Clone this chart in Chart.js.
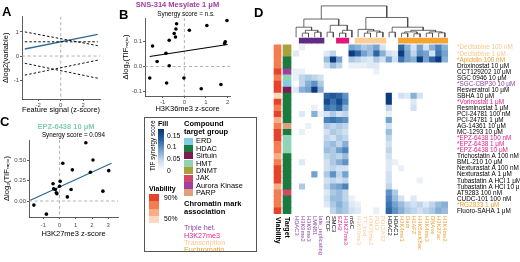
<!DOCTYPE html>
<html>
<head>
<meta charset="utf-8">
<script src="https://cdn.jsdelivr.net/npm/chart.js@4.4.1/dist/chart.umd.min.js"></script>
<style>
  body { margin: 0; width: 520px; height: 262px; position: relative; overflow: hidden; background: #fff;
         font-family: "Liberation Sans", Arial, sans-serif; }
  canvas { position: absolute; }
  .letter { position: absolute; font-weight: bold; font-size: 13px; line-height: 13px; }
  #legend { position: absolute; left: 144px; top: 117px; width: 113px; height: 135px; box-sizing: border-box;
            border: 1px solid #555; overflow: hidden; }
  #legend span, #legend div { position: absolute; white-space: nowrap; }
</style>
</head>
<body>
<canvas id="cA" width="104" height="116" style="left:0;top:0"></canvas>
<canvas id="cB" width="118" height="118" style="left:118px;top:0"></canvas>
<canvas id="cC" width="124" height="124" style="left:0;top:118px"></canvas>
<canvas id="cD" width="280" height="262" style="left:240px;top:0"></canvas>
<div id="legend"></div>
<div class="letter" style="left:2px;top:5px">A</div>
<div class="letter" style="left:119px;top:8px">B</div>
<div class="letter" style="left:0;top:115px">C</div>
<div class="letter" style="left:254px;top:6px">D</div>
<script>
// ---------- panel A (schematic lines)
const aLineX = [-3.2, 3.3];
const aBlue = [0.29, 0.90];
const aDash1 = [1.0, 0.43];
const aDash2 = [0.59, 0.59];
const aDash3 = [-0.30, -0.92];
const aDash4 = [-0.79, -0.17];
const aTicksX = [-2, 0, 2];
const aTicksY = [-1, 0, 1];

// ---------- panel B
const bX = [-1.47, -0.36, -0.39, -0.47, -0.41, -0.70, 0.23, 1.04, 1.97, 1.89, 1.86, -0.85, -1.26, -0.70, -1.60, -0.82, -0.02, 0.78, 1.69];
const bY = [0.082, 0.171, 0.150, 0.132, 0.118, 0.105, 0.145, 0.164, 0.184, 0.099, 0.092, 0.053, 0.020, 0.003, -0.046, -0.066, -0.046, -0.089, -0.072];
const bFitX = [-1.6, 2.0];
const bFitY = [0.040, 0.088];
const bTicksX = [-1, 0, 1, 2];
const bTicksY = [-0.1, 0, 0.1];

// ---------- panel C
const cX = [-1.58, -0.81, -0.40, -0.36, -0.26, -0.20, -0.16, 0.0, 0.04, 0.20, 0.48, 0.71, 0.79, 1.62, 2.06, 1.90, 2.67, 3.03];
const cY = [-0.05, -0.16, 0.21, 0.15, 0.14, 0.10, 0.09, 0.18, 0.24, 0.46, 0.05, 0.14, 0.38, 0.71, 0.50, 0.35, 0.12, 0.37];
const cFitX = [-1.8, 3.2];
const cFitY = [0.01, 0.46];
const cTicksX = [-1, 0, 1, 2, 3];
const cTicksY = [0, 0.25, 0.5];

// ---------- panel D (heatmap)
const rowLabels = ['*Decitabine 100 nM', '*Decitabine 1 μM', '*Apicidin 100 nM', 'Droxinostat 10 μM', 'CCT129202 10 μM',
  'SGC 0946 10 μM', '*SGC-CBP30 10 μM', 'Resveratrol 10 μM', 'SBHA 10 μM', '*Vorinostat 1 μM', 'Resminostat 1 μM',
  'PCI-24781 100 nM', 'PCI-24781 1 μM', 'AG-14361 10 μM', 'MC-1293 10 μM', '*EPZ-6438 100 nM', '*EPZ-6438 1 μM',
  '*EPZ-6438 10 μM', 'Trichostatin A 100 nM', 'BML-210 10 μM', 'Nexturastat A 100 nM', 'Nexturastat A 1 μM',
  'Tubastatin A HCl 1 μM', 'Tubastatin A HCl 10 μM', 'AT9283 100 nM', 'CUDC-101 100 nM', '*RG2833 1 μM', 'Fluoro-SAHA 1 μM'];
const rowMark = ['transc', 'transc', 'eu', 'none', 'none', 'none', 'triple', 'none', 'none', 'h3k27', 'none', 'none', 'none', 'none',
  'none', 'h3k27', 'h3k27', 'h3k27', 'none', 'none', 'none', 'none', 'none', 'none', 'none', 'none', 'eu', 'none'];
const rowTarget = ['DNMT', 'DNMT', 'HDAC', 'HDAC', 'Aurora Kinase', 'HMT', 'ERD', 'Sirtuin', 'HDAC', 'HDAC', 'HDAC', 'HDAC', 'HDAC',
  'PARP', 'HDAC', 'HMT', 'HMT', 'HMT', 'HDAC', 'HDAC', 'HDAC', 'HDAC', 'HDAC', 'HDAC', 'JAK', 'HDAC', 'HDAC', 'HDAC'];
const rowViability = [72, 80, 75, 80, 88, 80, 90, 86, 55, 86, 72, 90, 58, 80, 90, 86, 80, 80, 62, 80, 86, 90, 86, 66, 80, 82, 80, 90];

const colLabels = ['HDAC3', 'H3K9me2', 'H3K9me3', 'LMNB1', 'late_replicating', 'CTCF', 'SMC3', 'EZH2', 'H3K27me3', 'mSC',
  'H3K36me3', 'TT_bod', 'H3K79me2', 'POL2', 'POL2AS2', 'HDAC2', 'HDAC1', 'H3K4me1', 'Dam', 'H2AFZ', 'H4K5acK8ac',
  'H3K4me3', 'DNAse', 'H3K27ac', 'H3K4me2'];
const colMark = ['none', 'triple', 'triple', 'triple', 'triple', 'none', 'none', 'h3k27', 'h3k27', 'none', 'transc', 'transc',
  'transc', 'transc', 'transc', 'none', 'none', 'eu', 'eu', 'eu', 'eu', 'eu', 'eu', 'eu', 'eu'];
const colLabelMark = ['triple', 'triple', 'triple', 'triple', 'triple', 'none', 'none', 'h3k27', 'h3k27', 'none', 'transc', 'transc',
  'transc', 'transc', 'transc', 'none', 'none', 'eu', 'eu', 'eu', 'eu', 'eu', 'eu', 'eu', 'eu'];

// TIF synergy score, one row per compound, one column per chromatin feature
const synergy = [
  [0, .02, 0, 0, 0, 0, 0, 0, 0, .09, .08, .06, .07, .09, .04, 0, 0, .13, .08, .04, .09, .04, .08, .11, .08],
  [.03, 0, 0, 0, 0, .03, .05, 0, 0, .16, .13, .09, .07, .13, .08, .04, .03, .16, .09, .05, .10, .09, .04, .12, .09],
  [0, 0, 0, 0, 0, .07, .16, .09, 0, .06, .05, .04, .03, .06, .04, .09, .04, .12, .09, .08, .16, .09, .13, .16, .08],
  [0, 0, 0, 0, 0, .04, .07, .05, 0, .02, .02, .02, .03, .03, 0, 0, 0, 0, 0, 0, 0, 0, 0, 0, 0],
  [.02, .02, 0, 0, 0, 0, 0, 0, 0, 0, 0, 0, 0, .02, 0, 0, 0, 0, 0, 0, 0, 0, 0, 0, 0],
  [.02, .05, .06, .05, .04, 0, 0, 0, 0, 0, 0, 0, 0, 0, 0, 0, 0, 0, 0, 0, 0, 0, 0, 0, 0],
  [0, .05, .08, .10, .06, 0, 0, 0, 0, 0, 0, 0, 0, 0, 0, 0, 0, 0, 0, 0, 0, 0, 0, 0, 0],
  [.03, .08, .09, .16, .08, 0, 0, 0, 0, 0, 0, 0, 0, 0, 0, 0, 0, 0, 0, 0, 0, 0, 0, 0, 0],
  [0, 0, 0, 0, 0, .13, .14, .13, .10, 0, 0, 0, 0, 0, 0, .16, 0, .04, .03, .08, .04, 0, 0, 0, 0],
  [0, 0, 0, 0, 0, .15, .12, .15, .11, 0, 0, 0, 0, 0, 0, .16, 0, 0, 0, .03, 0, 0, 0, 0, 0],
  [0, 0, 0, .02, 0, .12, .11, .13, .08, 0, 0, 0, 0, 0, 0, .05, 0, 0, 0, .04, 0, 0, 0, 0, 0],
  [0, .03, 0, .08, .02, .04, .06, .04, .05, 0, 0, 0, 0, 0, 0, .02, 0, 0, 0, 0, 0, 0, 0, 0, 0],
  [0, 0, 0, 0, 0, .11, .12, .11, .10, 0, 0, 0, 0, 0, 0, .09, 0, 0, 0, 0, 0, 0, 0, 0, 0],
  [0, 0, .02, 0, 0, .06, .05, .06, .05, 0, 0, 0, 0, 0, 0, .04, 0, 0, 0, 0, 0, 0, 0, 0, 0],
  [0, .02, 0, 0, 0, .04, .06, .05, .04, 0, 0, 0, 0, 0, 0, .07, 0, 0, 0, 0, 0, 0, 0, 0, 0],
  [0, 0, 0, 0, 0, .05, .04, .06, .05, 0, 0, 0, 0, 0, 0, .05, 0, 0, 0, 0, 0, 0, 0, 0, 0],
  [0, 0, 0, 0, 0, .06, .07, .05, .08, 0, 0, 0, 0, 0, 0, .04, 0, 0, 0, 0, 0, 0, 0, 0, 0],
  [0, 0, 0, 0, 0, .07, .06, .09, .11, 0, 0, 0, 0, 0, 0, .05, 0, 0, 0, 0, 0, 0, 0, 0, 0],
  [0, 0, 0, 0, 0, .05, .06, .05, .07, 0, 0, 0, 0, 0, 0, .04, 0, 0, 0, 0, 0, 0, 0, 0, 0],
  [0, .03, 0, 0, 0, .04, .06, .08, .10, 0, 0, 0, 0, 0, 0, .03, .02, 0, 0, 0, 0, 0, 0, 0, 0],
  [0, 0, 0, 0, 0, .04, .05, .04, .04, 0, 0, 0, 0, 0, 0, .03, 0, .02, 0, 0, 0, 0, 0, 0, 0],
  [0, 0, 0, .09, 0, .06, .10, .05, .09, 0, 0, 0, 0, 0, 0, .04, 0, 0, 0, 0, 0, 0, 0, 0, 0],
  [0, 0, 0, 0, 0, .04, .05, .04, .05, 0, 0, 0, 0, 0, 0, .04, 0, 0, 0, 0, .02, 0, 0, 0, 0],
  [0, .06, 0, 0, 0, .05, .08, .09, .11, 0, 0, 0, 0, 0, 0, .05, 0, 0, 0, 0, 0, 0, 0, 0, 0],
  [0, 0, 0, 0, 0, .03, .06, .07, .05, 0, 0, 0, 0, 0, 0, .10, .06, 0, 0, 0, 0, 0, 0, 0, 0],
  [0, 0, 0, 0, 0, .04, .07, .07, .05, .02, 0, 0, 0, 0, 0, .11, .07, .04, 0, .03, 0, 0, 0, 0, 0],
  [0, 0, 0, 0, 0, .03, .06, .08, .06, .03, .02, 0, 0, 0, 0, .12, .09, .07, .05, .04, .05, .03, .05, .07, .08],
  [0, 0, 0, 0, 0, 0, .05, .07, .06, .04, .03, 0, 0, .02, 0, .13, .10, .08, .06, .05, .04, .05, .06, .08, .07]
];

// column dendrogram: [child a, child b, height]; leaves are 0..24, merges numbered from 25
const dendMerges = [
  [1, 2, 0.13], [3, 4, 0.16], [25, 26, 0.22], [0, 27, 0.32],
  [5, 6, 0.16], [7, 8, 0.13], [30, 9, 0.22], [29, 31, 0.38], [28, 32, 0.58],
  [11, 12, 0.13], [13, 14, 0.16], [34, 35, 0.20], [10, 36, 0.25],
  [15, 16, 0.16], [17, 18, 0.13], [19, 20, 0.11], [39, 40, 0.17], [21, 22, 0.13], [23, 24, 0.14],
  [42, 43, 0.17], [41, 44, 0.22], [38, 45, 0.32], [37, 46, 0.63], [33, 47, 1.0]
];

const targetGroups = ['ERD', 'HDAC', 'Sirtuin', 'HMT', 'DNMT', 'JAK', 'Aurora Kinase', 'PARP'];
const targetColors = ['#82cbe6', '#1b7a3e', '#7b1d4f', '#8fd4b4', '#a8a23a', '#d3476d', '#9f3f9e', '#dfa07f'];
const markNames = ['Triple het.', 'H3K27me3', 'Transcription', 'Euchromatin'];
const markKeys = ['triple', 'h3k27', 'transc', 'eu'];
const viabLevels = [90, 77, 63, 50];
const viabColors = ['#e6432c', '#f37c50', '#f8ad87', '#fcd8c2'];
const fillTicks = [0.15, 0.1, 0.05, 0];

const markText = { none: '#000', triple: '#8b45a6', h3k27: '#e0208a', transc: '#f9c890', eu: '#f0a030' };
const markBar = { none: 'rgba(0,0,0,0)', triple: '#622a87', h3k27: '#e4167e', transc: '#fbcf98', eu: '#f4a531' };
const FONT = "'Liberation Sans', Arial, sans-serif";

Chart.defaults.font.family = FONT;
Chart.defaults.animation = false;
Chart.defaults.events = [];
Chart.defaults.plugins.legend.display = false;
Chart.defaults.plugins.tooltip.enabled = false;

const heatStops = [[0, [255, 255, 255]], [0.04, [210, 225, 241]], [0.08, [135, 176, 214]],
  [0.12, [58, 116, 178]], [0.16, [12, 60, 126]], [0.2, [8, 40, 95]]];
function heatColor(v) {
  for (let i = 1; i < heatStops.length; i++) {
    const [v1, c1] = heatStops[i];
    const [v0, c0] = heatStops[i - 1];
    if (v <= v1 || i === heatStops.length - 1) {
      const t = Math.max(0, Math.min(1, (v - v0) / (v1 - v0)));
      return 'rgb(' + c0.map((c, k) => Math.round(c + (c1[k] - c) * t)).join(',') + ')';
    }
  }
}
function viabColor(v) {
  let best = 0;
  viabLevels.forEach((l, i) => { if (Math.abs(l - v) < Math.abs(viabLevels[best] - v)) best = i; });
  return viabColors[best];
}

// dashed grey reference lines at 0
const zeroLines = {
  id: 'zeroLines',
  beforeDatasetsDraw(chart) {
    const { ctx, chartArea: a, scales: { x, y } } = chart;
    const px = x.getPixelForValue(0), py = y.getPixelForValue(0);
    ctx.save();
    ctx.strokeStyle = '#a8a8a8';
    ctx.lineWidth = 0.9;
    ctx.setLineDash([3, 2.5]);
    ctx.beginPath();
    ctx.moveTo(px, a.top); ctx.lineTo(px, a.bottom);
    ctx.moveTo(a.left, py); ctx.lineTo(a.right, py);
    ctx.stroke();
    ctx.restore();
  }
};

const panelTitle = {
  id: 'panelTitle',
  afterDraw(chart, args, opts) {
    const ctx = chart.ctx;
    (opts.lines || []).forEach(l => {
      ctx.save();
      ctx.font = (l.bold ? 'bold ' : '') + l.size + 'px ' + FONT;
      ctx.fillStyle = l.color;
      ctx.textAlign = 'center';
      ctx.textBaseline = 'middle';
      ctx.fillText(l.text, l.x, l.y);
      ctx.restore();
    });
  }
};

const pts = (xs, ys) => xs.map((x, i) => ({ x, y: ys[i] }));
const lineSet = (xs, ys, color, dash, width) => ({
  type: 'line', data: pts(xs, ys), borderColor: color, borderWidth: width, borderDash: dash,
  pointRadius: 0, showLine: true, fill: false
});
const dotSet = (xs, ys) => ({ data: pts(xs, ys), pointRadius: 1.8, backgroundColor: '#000', borderWidth: 0 });

function scatterPanel(id, c) {
  new Chart(document.getElementById(id), {
    type: 'scatter',
    data: { datasets: c.datasets },
    options: {
      responsive: false,
      devicePixelRatio: 1,
      layout: { padding: c.padding },
      scales: {
        x: {
          type: 'linear', min: c.xMin, max: c.xMax,
          afterBuildTicks: s => { s.ticks = c.xTicks.map(v => ({ value: v })); },
          afterFit: s => { s.height = c.xHeight; },
          grid: { display: true, drawOnChartArea: false, tickLength: 2, color: '#333', lineWidth: 0.8 },
          border: { color: '#333', width: 0.8 },
          ticks: { font: { size: 6 }, color: '#4d4d4d', padding: c.xTickPad, callback: v => String(v) },
          title: { display: true, text: c.xTitle, color: '#000', font: { size: 7.5 }, padding: { top: 0, bottom: c.xTitlePad } }
        },
        y: {
          type: 'linear', min: c.yMin, max: c.yMax,
          afterBuildTicks: s => { s.ticks = c.yTicks.map(v => ({ value: v })); },
          afterFit: s => { s.width = c.yWidth; },
          grid: { display: true, drawOnChartArea: false, tickLength: 2, color: '#333', lineWidth: 0.8 },
          border: { color: '#333', width: 0.8 },
          ticks: { font: { size: 6 }, color: '#4d4d4d', padding: 1, callback: v => v.toFixed(c.yDigits) },
          title: { display: true, text: c.yTitle, color: '#000', font: { size: 7.5 }, padding: { top: c.yTitlePad, bottom: 0 } }
        }
      },
      plugins: { panelTitle: { lines: c.titles || [] } }
    },
    plugins: [zeroLines, panelTitle]
  });
}

scatterPanel('cA', {
  datasets: [
    lineSet(aLineX, aDash1, '#111', [2.5, 2], 1),
    lineSet(aLineX, aDash2, '#111', [2.5, 2], 1),
    lineSet(aLineX, aDash3, '#111', [2.5, 2], 1),
    lineSet(aLineX, aDash4, '#111', [2.5, 2], 1),
    lineSet(aLineX, aBlue, '#2f6c9f', [], 1.4)
  ],
  padding: { top: 16.7, right: 4, left: 0, bottom: 0 },
  xMin: -3.45, xMax: 3.5, yMin: -1.78, yMax: 1.63, xTicks: aTicksX, yTicks: aTicksY, yDigits: 0,
  xHeight: 17, yWidth: 22, xTickPad: 1, xTitlePad: 1.5, yTitlePad: 1,
  xTitle: 'Feature signal (z-score)', yTitle: 'Δlog2(variable)'
});

scatterPanel('cB', {
  datasets: [dotSet(bX, bY), lineSet(bFitX, bFitY, '#000', [], 1.2)],
  padding: { top: 18, right: 6, left: 0, bottom: 0 },
  xMin: -1.82, xMax: 2.11, yMin: -0.118, yMax: 0.194, xTicks: bTicksX, yTicks: bTicksY, yDigits: 1,
  xHeight: 22, yWidth: 27, xTickPad: 1, xTitlePad: 5, yTitlePad: 3,
  xTitle: 'H3K36me3 z-score', yTitle: 'Δlog₂(TIFᵣₐₜᵢₒ)',
  titles: [
    { text: 'SNS-314 Mesylate 1 μM', bold: true, size: 7.5, color: '#a03ca6', x: 59.5, y: 4.5 },
    { text: 'Synergy score = n.s.', size: 6.3, color: '#000', x: 68, y: 14 }
  ]
});

scatterPanel('cC', {
  datasets: [dotSet(cX, cY), lineSet(cFitX, cFitY, '#2a6699', [], 1.2)],
  padding: { top: 22, right: 6, left: 0, bottom: 0 },
  xMin: -1.88, xMax: 3.6, yMin: -0.195, yMax: 0.744, xTicks: cTicksX, yTicks: cTicksY, yDigits: 2,
  xHeight: 25, yWidth: 29, xTickPad: 3, xTitlePad: 4, yTitlePad: 2,
  xTitle: 'H3K27me3 z-score', yTitle: 'Δlog₂(TIFᵣₐₜᵢₒ)',
  titles: [
    { text: 'EPZ-6438 10 μM', bold: true, size: 7.5, color: '#7fcfae', x: 66, y: 8.5 },
    { text: 'Synergy score = 0.094', size: 6.3, color: '#000', x: 73.5, y: 17 }
  ]
});

// ---------- heatmap
const viabSpan = [-3.06, -1.94];
const targetSpan = [-1.61, -0.32];
const annotRow = -1.17;

const heatData = [];
synergy.forEach((row, i) => row.forEach((v, j) => heatData.push({ y: i, x: [j, j + 1], v })));

const nodeX = colLabels.map((_, j) => j + 0.5);
const nodeH = colLabels.map(() => 0);
const dendY = h => -1.74 - h * 5.18;
const dendSets = dendMerges.map(([a, b, h]) => {
  nodeX.push((nodeX[a] + nodeX[b]) / 2);
  nodeH.push(h);
  return {
    type: 'line',
    data: [{ x: nodeX[a], y: dendY(nodeH[a]) }, { x: nodeX[a], y: dendY(h) },
           { x: nodeX[b], y: dendY(h) }, { x: nodeX[b], y: dendY(nodeH[b]) }],
    borderColor: '#444', borderWidth: 0.8, pointRadius: 0, fill: false, tension: 0
  };
});

const barBase = { indexAxis: 'y', grouped: false, barPercentage: 1, categoryPercentage: 1, borderWidth: 0 };

const colLabelPlugin = {
  id: 'colLabels',
  afterDraw(chart) {
    const { ctx, chartArea: a, scales: { x } } = chart;
    ctx.save();
    ctx.textAlign = 'left';
    ctx.textBaseline = 'middle';
    ctx.font = '5.8px ' + FONT;
    colLabels.forEach((t, j) => {
      ctx.save();
      ctx.translate(x.getPixelForValue(j + 0.5), a.bottom + 2);
      ctx.rotate(Math.PI / 2);
      ctx.fillStyle = markText[colLabelMark[j]];
      ctx.fillText(t, 0, 0);
      ctx.restore();
    });
    ctx.font = 'bold 7px ' + FONT;
    ctx.fillStyle = '#000';
    [['Viability', viabSpan], ['Target', targetSpan]].forEach(([t, s]) => {
      ctx.save();
      ctx.translate(x.getPixelForValue((s[0] + s[1]) / 2), a.bottom + 3);
      ctx.rotate(Math.PI / 2);
      ctx.fillText(t, 0, 0);
      ctx.restore();
    });
    ctx.restore();
  }
};

new Chart(document.getElementById('cD'), {
  type: 'bar',
  data: {
    datasets: [
      { ...barBase, data: heatData, backgroundColor: c => c.raw ? heatColor(c.raw.v) : '#fff' },
      { ...barBase, data: rowViability.map((v, i) => ({ y: i, x: viabSpan, v })), backgroundColor: rowViability.map(viabColor) },
      { ...barBase, data: rowTarget.map((t, i) => ({ y: i, x: targetSpan })),
        backgroundColor: rowTarget.map(t => targetColors[targetGroups.indexOf(t)]) },
      { ...barBase, data: colMark.map((m, j) => ({ y: annotRow, x: [j, j + 1] })), barThickness: 5,
        backgroundColor: colMark.map(m => markBar[m]) },
      ...dendSets
    ]
  },
  options: {
    responsive: false,
    devicePixelRatio: 1,
    layout: { padding: { top: 1.6, bottom: 48, left: 0, right: 0 } },
    scales: {
      x: { type: 'linear', display: false, offset: false, min: -8.55, max: 25 },
      y: {
        type: 'linear', reverse: true, offset: false, min: -7.2, max: 27.5, position: 'right',
        afterBuildTicks: s => { s.ticks = rowLabels.map((_, i) => ({ value: i })); },
        afterFit: s => { s.width = 72; },
        grid: { display: false }, border: { display: false },
        ticks: {
          autoSkip: false, padding: 1, font: { size: 6.4, lineHeight: 1 },
          color: c => c.tick ? markText[rowMark[c.tick.value]] : '#000',
          callback: v => rowLabels[v]
        }
      }
    }
  },
  plugins: [colLabelPlugin]
});

// ---------- legend box
const legend = document.getElementById('legend');
function txt(t, x, cy, size, opts = {}) {
  const s = document.createElement('span');
  s.textContent = t;
  s.style.left = x + 'px';
  s.style.top = (cy - size / 2) + 'px';
  s.style.fontSize = size + 'px';
  s.style.lineHeight = size + 'px';
  if (opts.bold) s.style.fontWeight = 'bold';
  s.style.color = opts.color || '#000';
  legend.appendChild(s);
  return s;
}
function box(x, y, w, h, bg) {
  const d = document.createElement('div');
  Object.assign(d.style, { left: x + 'px', top: y + 'px', width: w + 'px', height: h + 'px', background: bg });
  legend.appendChild(d);
}
txt('Fill', 13, 5, 7, { bold: true });
const vt = txt('TIF synergy score', 4, 0, 6.3);
Object.assign(vt.style, { writingMode: 'vertical-rl', transform: 'rotate(180deg)', top: '7px', height: '46px',
  textAlign: 'center', lineHeight: '7px', width: '7px' });
const barTop = 11, barH = 42, zeroY = 53, per005 = 11.7;
const topVal = (zeroY - barTop) / per005 * 0.05;
box(13, barTop, 6, barH, 'linear-gradient(to bottom,' +
  [0, 0.25, 0.5, 0.75, 1].map(f => heatColor(topVal * (1 - f)) + ' ' + f * 100 + '%').join(',') + ')');
fillTicks.forEach(v => txt(String(v), 22, zeroY - v / 0.05 * per005, 6.8));

txt('Viability', 4, 70, 7, { bold: true });
viabColors.forEach((c, i) => box(4, 76 + i * 7.3, 10, 7.3, c));
txt(viabLevels[0] + '%', 19, 80, 6.8);
txt(viabLevels[viabLevels.length - 1] + '%', 19, 101, 6.8);

txt('Compound', 39, 6, 7.5, { bold: true });
txt('target group', 39, 14, 7.5, { bold: true });
targetGroups.forEach((g, i) => {
  box(39, 19.5 + i * 7.4, 9, 7, targetColors[i]);
  txt(g, 51, 23 + i * 7.4, 7.4);
});
txt('Chromatin mark', 39, 86, 7.5, { bold: true });
txt('association', 39, 94, 7.5, { bold: true });
markNames.forEach((m, i) => txt(m, 39, 110 + i * 7.2, 7.2, { color: markText[markKeys[i]] }));
</script>
</body>
</html>
